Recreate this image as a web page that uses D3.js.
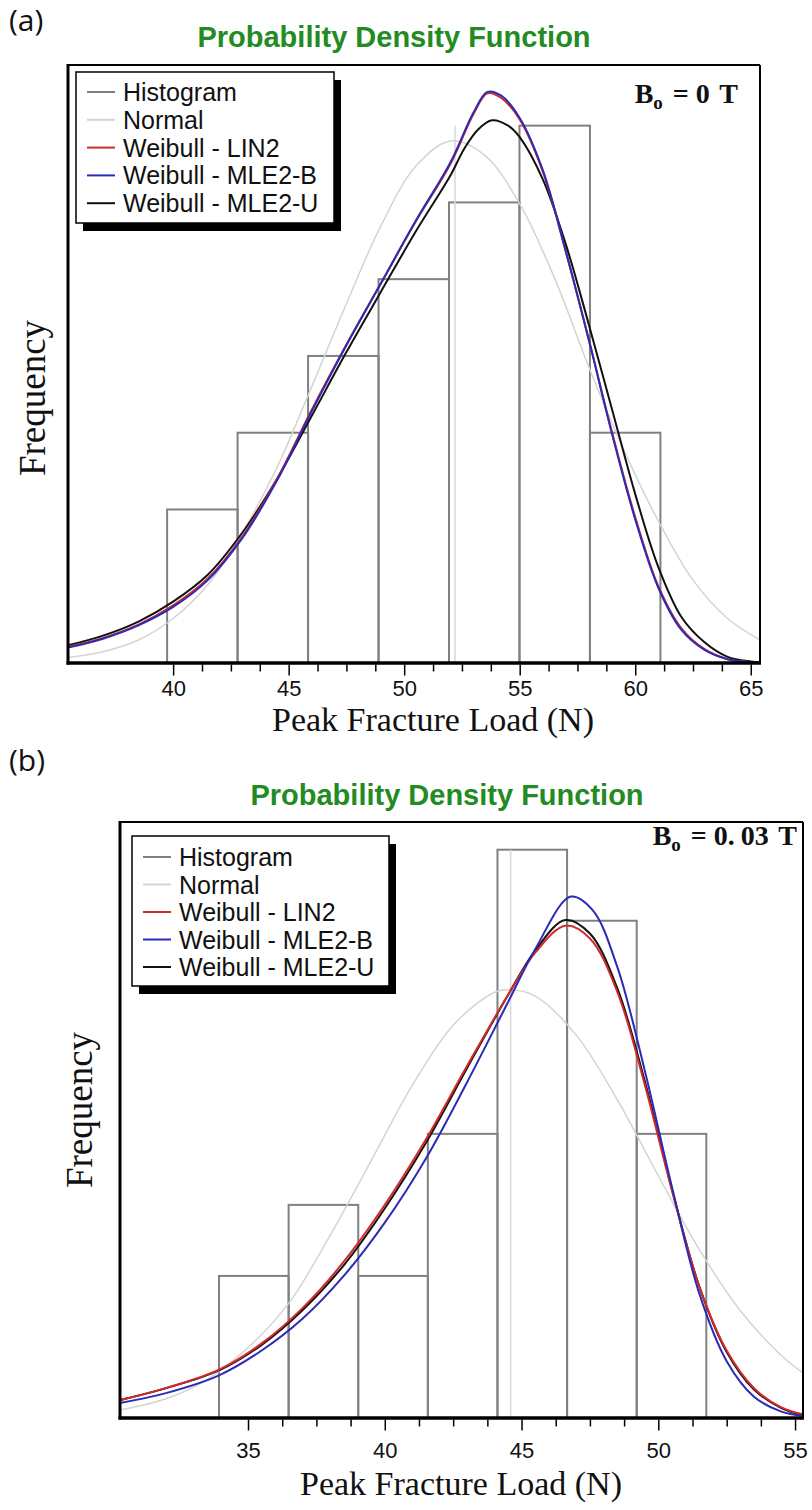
<!DOCTYPE html>
<html><head><meta charset="utf-8">
<script src="https://cdn.jsdelivr.net/npm/d3@7"></script>
<style>body{margin:0;background:#fff}</style>
</head><body>
<svg id="c" width="812" height="1510" xmlns="http://www.w3.org/2000/svg"></svg>
<script>
// ---------- shared labels ----------
const seriesNames = ["Histogram", "Normal", "Weibull - LIN2", "Weibull - MLE2-B", "Weibull - MLE2-U"];
const seriesColors = ["#808080", "#d4d4d4", "#d42a2a", "#2b2bb8", "#111111"];
const chartTitle = "Probability Density Function";
const xAxisTitle = "Peak Fracture Load (N)";
const yAxisTitle = "Frequency";

// ---------- panel (a): Bo = 0 T ----------
const majorTicksA = [40, 45, 50, 55, 60, 65];
const binEdgesA = [39.74, 42.79, 45.84, 48.89, 51.94, 54.99, 58.04, 61.09];
const countsA = [2, 3, 4, 5, 6, 7, 3];
const normalMeanA = 52.2;
const normalA = [[35.45,0.07],[37,0.15],[38.5,0.3],[40,0.58],[41.5,1.02],[43,1.7],[44.5,2.55],[46,3.6],[47.5,4.68],[49,5.7],[50.5,6.47],[52,6.8],[53.5,6.61],[55,5.98],[56.5,5.02],[58,3.85],[59.5,2.78],[61,1.85],[62.5,1.08],[64,0.58],[65.4,0.3]];
const lin2A = [[35.45,0.21],[37,0.33],[38.5,0.5],[40,0.75],[41.5,1.1],[43,1.65],[44.5,2.4],[46,3.3],[47.5,4.15],[49,4.95],[50.5,5.75],[52,6.5],[53,7.15],[53.6,7.42],[54.2,7.36],[55,7.08],[56,6.4],[57,5.35],[58,4.2],[59,3.0],[60,1.9],[61,1.0],[62,0.45],[63,0.18],[64,0.05],[65,0.01],[65.4,0.0]];
const mle2bA = [[35.45,0.2],[37,0.32],[38.5,0.49],[40,0.73],[41.5,1.08],[43,1.63],[44.5,2.38],[46,3.28],[47.5,4.14],[49,4.95],[50.5,5.76],[52,6.52],[53,7.17],[53.6,7.44],[54.2,7.39],[55,7.1],[56,6.42],[57,5.36],[58,4.2],[59,2.98],[60,1.87],[61,0.98],[62,0.43],[63,0.17],[64,0.05],[65,0.01],[65.4,0.0]];
const mle2uA = [[35.45,0.23],[37,0.36],[38.5,0.54],[40,0.8],[41.5,1.15],[43,1.7],[44.5,2.4],[46,3.22],[47.5,4.05],[49,4.84],[50.5,5.62],[52,6.35],[52.6,6.7],[53.2,6.95],[53.8,7.07],[54.5,7.0],[55,6.85],[56,6.3],[57,5.45],[58,4.4],[59,3.3],[60,2.2],[61,1.25],[62,0.6],[63,0.27],[64,0.08],[65,0.02],[65.4,0.01]];

// ---------- panel (b): Bo = 0.03 T ----------
const majorTicksB = [35, 40, 45, 50, 55];
const binEdgesB = [33.94, 36.485, 39.03, 41.575, 44.12, 46.665, 49.21, 51.755];
const countsB = [2, 3, 2, 4, 8, 7, 4];
const normalMeanB = 44.6;
const normalB = [[30.3,0.11],[32,0.27],[33.5,0.54],[35,0.99],[36.5,1.62],[38,2.57],[39.5,3.62],[41,4.68],[42.5,5.53],[44,5.99],[44.6,6.03],[45.5,5.94],[47,5.39],[48.5,4.48],[50,3.41],[51.5,2.37],[53,1.51],[54.5,0.88],[55.3,0.63]];
const lin2B = [[30.3,0.25],[32,0.42],[33.94,0.68],[35.5,1.05],[37,1.55],[38.5,2.2],[40,3.0],[41.5,3.92],[43,4.95],[44.5,5.95],[45.5,6.55],[46.6,6.93],[47.5,6.75],[48.5,6.0],[49.5,4.7],[50.5,3.2],[51.5,1.85],[52.5,0.95],[53.5,0.42],[54.5,0.15],[55.3,0.05]];
const mle2bB = [[30.3,0.21],[32,0.35],[33.94,0.6],[35.5,0.95],[37,1.4],[38.5,2.0],[40,2.75],[41.5,3.65],[43,4.72],[44.5,5.85],[45.5,6.6],[46.8,7.34],[47.6,7.15],[48.5,6.35],[49.5,4.9],[50.5,3.25],[51.5,1.75],[52.5,0.8],[53.5,0.3],[54.5,0.09],[55.3,0.03]];
const mle2uB = [[30.3,0.25],[32,0.42],[33.94,0.67],[35.5,1.03],[37,1.52],[38.5,2.15],[40,2.95],[41.5,3.87],[43,4.92],[44.5,5.95],[45.5,6.58],[46.6,7.01],[47.5,6.82],[48.5,6.05],[49.5,4.75],[50.5,3.22],[51.5,1.85],[52.5,0.93],[53.5,0.4],[54.5,0.14],[55.3,0.04]];

const svg = d3.select("#c");

function drawPanel(p) {
  const g = svg.append("g");
  const x = d3.scaleLinear().domain(p.xDomain).range([p.left, p.right]);
  const y = d3.scaleLinear().domain([0, p.yMax]).range([p.bottom, p.top]);
  const clipId = "clip" + p.id;
  svg.append("clipPath").attr("id", clipId).append("rect")
    .attr("x", p.left).attr("y", p.top).attr("width", p.right - p.left).attr("height", p.bottom - p.top);

  // panel letter
  g.append("text").attr("x", p.letterX).attr("y", p.letterY)
    .attr("font-family", "'Open Sans', 'Liberation Sans', sans-serif").attr("font-size", 30).attr("fill", "#111")
    .text(p.letter);
  // title
  g.append("text").attr("x", p.titleX).attr("y", p.titleY).attr("text-anchor", "middle")
    .attr("font-family", "'Liberation Sans', Arial, sans-serif").attr("font-weight", "bold")
    .attr("font-size", 29).attr("fill", "#228b22").text(chartTitle);

  const plot = g.append("g").attr("clip-path", `url(#${clipId})`);
  // histogram
  plot.selectAll("rect.bin").data(p.counts.map((c, i) => ({x0: p.edges[i], x1: p.edges[i + 1], c})))
    .join("rect").attr("class", "bin")
    .attr("x", d => x(d.x0)).attr("y", d => y(d.c))
    .attr("width", d => x(d.x1) - x(d.x0)).attr("height", d => y(0) - y(d.c))
    .attr("fill", "none").attr("stroke", seriesColors[0]).attr("stroke-width", 2);
  // normal mean marker
  plot.append("line").attr("x1", x(p.mean)).attr("x2", x(p.mean))
    .attr("y1", y(0)).attr("y2", y(d3.max(p.counts)))
    .attr("stroke", "#d8d8d8").attr("stroke-width", 1.5);

  const line = d3.line().x(d => x(d[0])).y(d => y(d[1])).curve(d3.curveCatmullRom.alpha(0.5));
  const curves = [[p.normal, 1, 1.5], [p.mle2u, 4, 2], [p.lin2, 2, 2], [p.mle2b, 3, 2]];
  curves.forEach(([data, ci, w]) => {
    plot.append("path").datum(data).attr("d", line).attr("fill", "none")
      .attr("stroke", seriesColors[ci]).attr("stroke-width", w);
  });

  // frame
  const fr = g.append("g").attr("stroke", "#000");
  fr.append("line").attr("x1", p.left).attr("x2", p.right).attr("y1", p.top).attr("y2", p.top).attr("stroke-width", 2);
  fr.append("line").attr("x1", p.right).attr("x2", p.right).attr("y1", p.top).attr("y2", p.bottom).attr("stroke-width", 2);
  fr.append("line").attr("x1", p.left).attr("x2", p.left).attr("y1", p.top - 1).attr("y2", p.bottom + 1.5).attr("stroke-width", 3);
  fr.append("line").attr("x1", p.left - 1.5).attr("x2", p.right + 1).attr("y1", p.bottom).attr("y2", p.bottom).attr("stroke-width", 3.5);

  // axis ticks
  const majors = p.majors;
  const minors = d3.range(majors[0], majors[majors.length - 1] + 0.001, 1.25).filter(v => !majors.some(m => Math.abs(m - v) < 1e-6));
  const axMinor = g.append("g").attr("transform", `translate(0,${p.bottom + 1.5})`)
    .call(d3.axisBottom(x).tickValues(minors).tickSize(7).tickFormat(""));
  const axMajor = g.append("g").attr("transform", `translate(0,${p.bottom + 1.5})`)
    .call(d3.axisBottom(x).tickValues(majors).tickSize(11).tickFormat(d3.format("d")));
  [axMinor, axMajor].forEach(a => {
    a.select(".domain").remove();
    a.selectAll(".tick line").attr("stroke", "#000").attr("stroke-width", 1.5);
  });
  axMajor.selectAll(".tick text").attr("font-family", "'Liberation Sans', Arial, sans-serif")
    .attr("font-size", 22).attr("fill", "#111").attr("dy", null).attr("y", p.tickLabelDy);

  // axis titles
  g.append("text").attr("x", p.xTitleX).attr("y", p.xTitleY).attr("text-anchor", "middle")
    .attr("font-family", "'Liberation Serif', 'Times New Roman', serif").attr("font-size", 34).attr("fill", "#111")
    .text(xAxisTitle);
  g.append("text").attr("transform", `translate(${p.yTitleX},${p.yTitleY}) rotate(-90)`).attr("text-anchor", "middle")
    .attr("font-family", "'Liberation Serif', 'Times New Roman', serif").attr("font-size", 37).attr("fill", "#111")
    .text(yAxisTitle);

  // field label (B_o = value T)
  const bt = g.append("text").attr("x", p.bX).attr("y", p.bY).attr("text-anchor", "end")
    .attr("font-family", "'Liberation Serif', 'DejaVu Serif', serif").attr("font-weight", "bold")
    .attr("font-size", 28).attr("fill", "#111");
  bt.append("tspan").text("B");
  bt.append("tspan").attr("font-size", 19).attr("dy", 6).text("o");
  bt.append("tspan").attr("dy", -6).attr("dx", 3).text(" = ");
  const parts = p.field.split(".");
  if (parts.length > 1) {
    bt.append("tspan").text(parts[0] + ".");
    bt.append("tspan").attr("dx", 6).text(parts[1]);
  } else {
    bt.append("tspan").text(parts[0]);
  }
  bt.append("tspan").attr("dx", 3).text(" T");

  // legend
  const lg = g.append("g");
  lg.append("rect").attr("x", p.lgX + 7).attr("y", p.lgY + 8).attr("width", p.lgW).attr("height", p.lgH).attr("fill", "#000");
  lg.append("rect").attr("x", p.lgX).attr("y", p.lgY).attr("width", p.lgW).attr("height", p.lgH)
    .attr("fill", "#fff").attr("stroke", "#000").attr("stroke-width", 1.5);
  seriesNames.forEach((name, i) => {
    const cy = p.lgY + p.lgRow0 + i * p.lgStep;
    lg.append("line").attr("x1", p.lgX + 11).attr("x2", p.lgX + 39).attr("y1", cy).attr("y2", cy)
      .attr("stroke", seriesColors[i]).attr("stroke-width", 2);
    lg.append("text").attr("x", p.lgX + 47).attr("y", cy).attr("dy", "0.36em")
      .attr("font-family", "'Liberation Sans', Arial, sans-serif").attr("font-size", 25).attr("fill", "#111")
      .text(name);
  });
}

drawPanel({
  id: "a", letter: "(a)", letterX: 9, letterY: 31, titleX: 394, titleY: 47,
  left: 68, right: 760, top: 65, bottom: 663, xDomain: [35.45, 65.4], yMax: 7.79,
  majors: majorTicksA, edges: binEdgesA, counts: countsA, mean: normalMeanA,
  normal: normalA, lin2: lin2A, mle2b: mle2bA, mle2u: mle2uA,
  tickLabelDy: 31.5, xTitleX: 433, xTitleY: 731, yTitleX: 45, yTitleY: 398,
  bX: 738, bY: 103, field: "0",
  lgX: 76, lgY: 72, lgW: 258, lgH: 151, lgRow0: 20, lgStep: 27.8
});
drawPanel({
  id: "b", letter: "(b)", letterX: 9, letterY: 771, titleX: 447, titleY: 805,
  left: 120, right: 803, top: 822, bottom: 1418, xDomain: [30.32, 55.29], yMax: 8.39,
  majors: majorTicksB, edges: binEdgesB, counts: countsB, mean: normalMeanB,
  normal: normalB, lin2: lin2B, mle2b: mle2bB, mle2u: mle2uB,
  tickLabelDy: 38, xTitleX: 461, xTitleY: 1495, yTitleX: 92, yTitleY: 1110,
  bX: 797, bY: 845, field: "0.03",
  lgX: 132, lgY: 836, lgW: 257, lgH: 150, lgRow0: 21, lgStep: 27.5
});
</script>
</body></html>
